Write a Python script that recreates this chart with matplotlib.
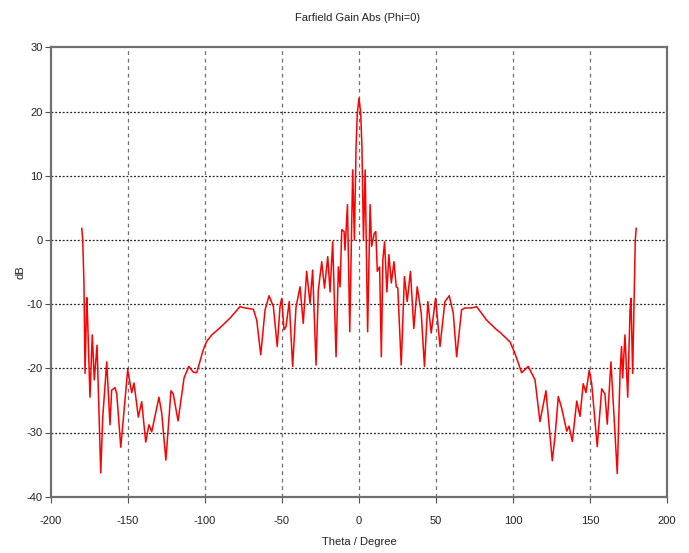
import matplotlib
matplotlib.use("Agg")
import matplotlib.pyplot as plt

# Far-field gain (dB) versus theta (degrees)
theta = [
    -180.0, -179.4, -178.6, -177.9, -176.8, -176.2, -174.7, -173.2, -171.9, -170.1,
    -167.7, -166.4, -163.8, -161.7, -160.6, -158.4, -157.3, -154.7, -150.2, -147.6,
    -146.1, -143.3, -141.1, -138.5, -136.4, -134.6, -129.9, -128.1, -125.4, -122.1,
    -120.6, -117.5, -113.6, -110.5, -107.6, -105.4, -101.1, -98.9, -95.6, -90.3,
    -83.8, -77.3, -74.0, -68.6, -66.4, -63.8, -61.0, -58.4, -55.6, -53.1,
    -51.3, -50.2, -48.7, -47.4, -45.3, -43.1, -40.9, -38.3, -36.2, -34.0,
    -31.8, -30.1, -27.9, -26.4, -24.2, -22.4, -20.3, -18.8, -17.1, -14.9,
    -13.4, -12.3, -11.2, -9.7, -9.1, -7.5, -6.0, -4.1, -3.0, -1.9,
    -1.1, 0.0, 1.1, 1.9, 2.9, 4.0, 5.6, 7.2, 8.2, 9.9,
    10.9, 11.9, 13.4, 14.5, 15.5, 16.6, 18.1, 19.4, 21.0, 22.7,
    24.2, 25.2, 27.4, 29.5, 31.3, 33.4, 35.6, 37.8, 40.4, 42.5,
    44.7, 46.9, 49.7, 52.6, 55.8, 58.6, 61.2, 63.4, 66.6, 68.8,
    73.1, 76.4, 82.9, 89.4, 91.6, 98.1, 101.3, 105.6, 109.9, 114.3,
    117.5, 121.4, 125.5, 127.3, 129.4, 131.6, 134.9, 136.4, 138.5, 141.4,
    143.5, 145.6, 147.4, 149.5, 151.1, 154.7, 157.6, 159.7, 161.2, 163.6,
    165.8, 167.7, 169.5, 170.5, 171.2, 172.7, 174.5, 176.0, 176.6, 177.7,
    179.4, 180.0,
]
gain_db = [
    1.8, 0.0, -6.7, -20.8, -9.0, -12.5, -24.5, -14.8, -21.8, -16.4,
    -36.3, -27.6, -19.0, -28.8, -23.4, -23.0, -24.0, -32.3, -20.2, -23.8,
    -22.3, -27.6, -25.2, -31.5, -28.8, -29.9, -24.5, -27.0, -34.3, -23.5,
    -24.0, -28.2, -21.5, -19.7, -20.6, -20.7, -17.1, -15.8, -14.8, -13.7,
    -12.2, -10.4, -10.6, -10.8, -12.5, -17.9, -10.9, -8.7, -10.4, -16.6,
    -10.4, -9.1, -14.0, -13.5, -9.6, -19.7, -10.5, -7.3, -13.0, -4.9,
    -9.9, -4.7, -19.5, -7.8, -3.4, -7.5, -2.6, -8.1, -0.3, -18.2,
    -4.2, -7.3, 1.6, 1.3, -1.6, 5.5, -14.3, 10.9, 0.0, 14.5,
    19.7, 22.1, 19.7, 14.5, 0.0, 10.9, -14.3, 5.5, -1.0, 1.0,
    1.3, -4.9, -4.2, -18.2, -3.1, -0.3, -8.1, -2.3, -6.7, -3.4,
    -7.3, -7.5, -19.5, -5.7, -9.6, -4.9, -13.8, -7.3, -11.4, -19.7,
    -9.6, -14.5, -9.1, -16.6, -9.6, -8.7, -11.4, -18.2, -10.9, -10.6,
    -10.6, -10.4, -12.5, -14.0, -14.4, -15.9, -17.7, -20.7, -19.7, -21.8,
    -28.3, -23.5, -34.4, -30.6, -24.4, -26.2, -29.8, -29.0, -31.4, -25.1,
    -27.5, -22.4, -23.8, -20.3, -22.4, -32.2, -23.2, -24.0, -28.7, -19.0,
    -28.2, -36.4, -20.8, -16.6, -21.5, -14.8, -24.5, -10.9, -9.1, -20.8,
    0.0, 1.8,
]

x_ticks = [-200, -150, -100, -50, 0, 50, 100, 150, 200]
y_ticks = [-40, -30, -20, -10, 0, 10, 20, 30]

plt.rcParams["font.family"] = ["Liberation Sans", "DejaVu Sans"]

fig = plt.figure(figsize=(6.89, 5.53), dpi=100)
ax = fig.add_axes([51 / 689, 1 - 496.7 / 553, (667 - 51) / 689, (496.7 - 47.3) / 553])

ax.plot(theta, gain_db, color="#ff0000", linewidth=1.1, zorder=3)

ax.set_xlim(-200, 200)
ax.set_ylim(-40, 30)
ax.set_xticks(x_ticks)
ax.set_yticks(y_ticks)
ax.set_xticklabels([str(v) for v in x_ticks])
ax.set_yticklabels([str(v) for v in y_ticks])

for v in x_ticks[1:-1]:
    ax.axvline(v, color="#707070", linestyle=(0, (3, 3)), linewidth=0.9, zorder=1)
for v in y_ticks[1:-1]:
    ax.axhline(v, color="#202020", linestyle=(0, (1.5, 1.5)), linewidth=0.9, zorder=1)

for s in ax.spines.values():
    s.set_color("#707070")
    s.set_linewidth(1.6)

ax.tick_params(axis="both", direction="out", length=4, width=0.8, color="#505050",
               labelsize=8, labelcolor="#222222")
ax.tick_params(axis="x", pad=10)
ax.tick_params(axis="y", pad=2)

ax.set_xlabel("Theta / Degree", fontsize=8, color="#222222", labelpad=8)
ax.set_ylabel("dB", fontsize=8, color="#222222", labelpad=1)
fig.text(358 / 689, 1 - 18 / 553, "Farfield Gain Abs (Phi=0)", ha="center", va="center",
         fontsize=8, color="#222222")

fig.savefig("out.png", dpi=100)
